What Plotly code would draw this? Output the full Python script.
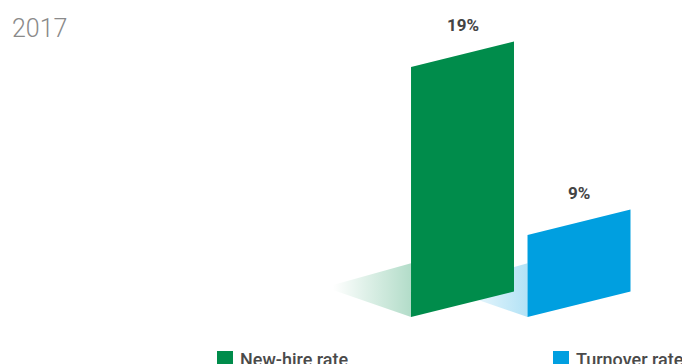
import plotly.graph_objects as go

# ---- data ----
categories = ["New-hire rate", "Turnover rate"]
values = [19, 9]
year_label = "2017"

# ---- style ----
colors = ["#008C4B", "#009FE0"]
shadow_rgb = ["0,140,75", "0,159,224"]
W, H = 682, 364
BAR_W = 0.884          # bar width in x units
SKEW = 1.52            # rise of right edge (y units)
FLOOR = 4.12           # floor level of the bars (y units)
SH_LEN = 0.67          # shadow length to the left (x units)
SH_TOP = 3.2           # shadow height at bar (y units)
X_RANGE = [-3.970, 1.884]
Y_RANGE = [1.322, 22.99]

fig = go.Figure()

# shadows first (behind bars)
for i, (cat, v) in enumerate(zip(categories, values)):
    xl = i - BAR_W / 2
    xs = [xl - SH_LEN, xl, xl, xl - SH_LEN, xl - SH_LEN]
    ys = [FLOOR + 1.9, FLOOR + SH_TOP, FLOOR, FLOOR + 1.6, FLOOR + 1.9]
    fig.add_trace(go.Scatter(
        x=xs, y=ys, mode="lines", fill="toself", line=dict(width=0),
        fillgradient=dict(type="horizontal",
                          colorscale=[[0, f"rgba({shadow_rgb[i]},0)"],
                                      [1, f"rgba({shadow_rgb[i]},0.3)"]]),
        hoverinfo="skip", showlegend=False))

# bars: blue first so green overlaps the blue shadow, then green
for i in [1, 0]:
    v = values[i]
    xl, xr = i - BAR_W / 2, i + BAR_W / 2
    fig.add_trace(go.Scatter(
        x=[xl, xl, xr, xr, xl],
        y=[FLOOR, v, v + SKEW, FLOOR + SKEW, FLOOR],
        mode="lines", fill="toself", fillcolor=colors[i],
        line=dict(width=0, color=colors[i]),
        name=categories[i], showlegend=False,
        hovertemplate=f"{categories[i]}: {v}%<extra></extra>"))

# value labels
for i, v in enumerate(values):
    fig.add_annotation(x=i, y=v + SKEW / 2, text=f"{v}%", showarrow=False,
                       yshift=29, xref="x", yref="y",
                       font=dict(family="Roboto", size=17, color="#444444", weight=700))

# year title
fig.add_annotation(x=10 / W, y=1 - 29 / H, xref="paper", yref="paper",
                   xanchor="left", yanchor="middle", text=year_label, showarrow=False,
                   font=dict(family="Roboto", size=25, color="#8a8a8a", weight=300))

# legend (squares + labels, clipped at bottom like the reference)
leg_x = [217, 553]
for i, cat in enumerate(categories):
    x0 = leg_x[i]
    fig.add_shape(type="rect", xref="paper", yref="paper",
                  x0=x0 / W, x1=(x0 + 16) / W, y0=1 - 351 / H, y1=1 - 370 / H,
                  fillcolor=colors[i], line=dict(width=0))
    fig.add_annotation(x=(x0 + 21) / W, y=1 - 359 / H, xref="paper", yref="paper",
                       xanchor="left", yanchor="middle", text=cat, showarrow=False,
                       font=dict(family="Roboto", size=18, color="#4a4a4a", weight=500))

fig.update_layout(
    width=W, height=H, margin=dict(l=0, r=0, t=0, b=0),
    paper_bgcolor="white", plot_bgcolor="white",
    xaxis=dict(range=X_RANGE, visible=False, fixedrange=True),
    yaxis=dict(range=Y_RANGE, visible=False, fixedrange=True),
    showlegend=False,
)

fig.write_html("out.html", config={"displayModeBar": False},
               post_script="document.body.style.margin='0';document.body.style.overflow='hidden';")
